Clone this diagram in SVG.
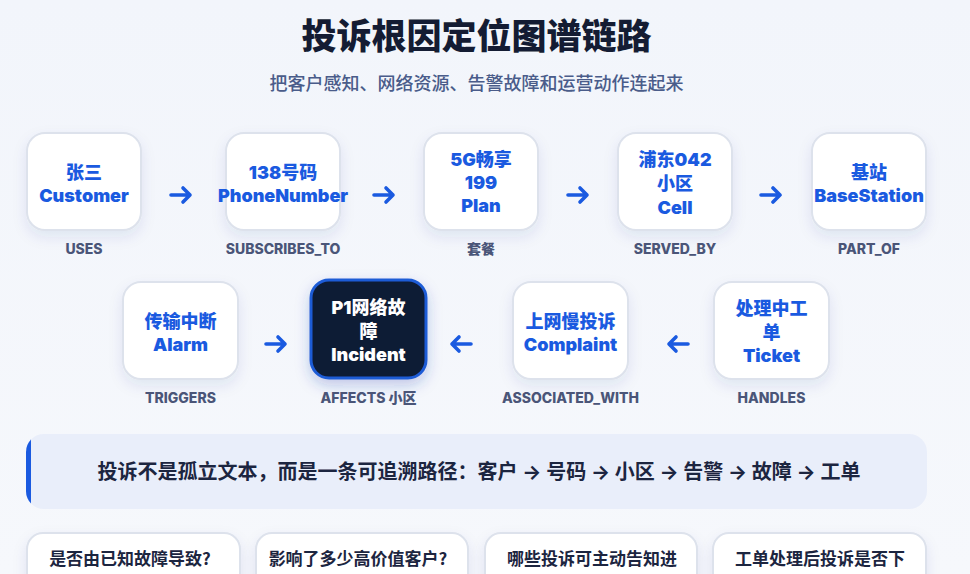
<svg xmlns="http://www.w3.org/2000/svg" width="970" height="574" viewBox="0 0 970 574">
  <defs>
    <linearGradient id="bg" x1="0" y1="0" x2="0" y2="1">
      <stop offset="0" stop-color="#f2f5fb"/>
      <stop offset="1" stop-color="#f6f8fc"/>
    </linearGradient>
    <filter id="sh" x="-30%" y="-30%" width="160%" height="170%">
      <feDropShadow dx="0" dy="6" stdDeviation="7" flood-color="#1e3a8a" flood-opacity="0.09"/>
    </filter>
    <filter id="sh2" x="-30%" y="-30%" width="160%" height="170%">
      <feDropShadow dx="0" dy="6" stdDeviation="7" flood-color="#1e40af" flood-opacity="0.25"/>
    </filter>
    <clipPath id="bannerClip">
      <rect x="26" y="434" width="901" height="75" rx="18"/>
    </clipPath>
  </defs>
  <style>
    .t { font-family: Inter, "Noto Sans CJK SC", sans-serif; }
    .box { fill: #ffffff; stroke: #dde2ec; stroke-width: 2; }
    .nt { font-family: Inter, "Noto Sans CJK SC", sans-serif; font-size: 18px; font-weight: 900; fill: #1a5ae0; text-anchor: middle; dominant-baseline: central; }
    .nw { fill: #ffffff; }
    .lb { font-family: Inter, "Noto Sans CJK SC", sans-serif; font-size: 14px; font-weight: 800; fill: #4a5578; text-anchor: middle; dominant-baseline: central; }
    .arr { fill: none; stroke: #1a5ae0; stroke-width: 3.6; stroke-linecap: round; stroke-linejoin: round; }
    .card { fill: #ffffff; stroke: #dde2ec; stroke-width: 2; }
    .ct { font-family: "Noto Sans CJK SC", sans-serif; font-size: 17px; font-weight: 700; fill: #1c2540; text-anchor: middle; dominant-baseline: central; }
  </style>

  <rect x="0" y="0" width="970" height="574" fill="url(#bg)"/>

  <g id="title">
    <text class="t" x="476.5" y="36" text-anchor="middle" dominant-baseline="central" font-size="35" font-weight="900" fill="#141c33">投诉根因定位图谱链路</text>
    <text class="t" x="476.5" y="83" text-anchor="middle" dominant-baseline="central" font-size="18" font-weight="500" fill="#4a5c8a">把客户感知、网络资源、告警故障和运营动作连起来</text>
  </g>

  <!-- Row 1 -->
  <g id="node-customer">
    <rect class="box" x="27" y="133" width="114" height="97" rx="18" filter="url(#sh)"/>
    <text class="nt" x="84" y="172">张三</text>
    <text class="nt" x="84" y="195">Customer</text>
    <text class="lb" x="84" y="248">USES</text>
  </g>
  <g id="node-phone">
    <rect class="box" x="226" y="133" width="114" height="97" rx="18" filter="url(#sh)"/>
    <text class="nt" x="283" y="172">138号码</text>
    <text class="nt" x="283" y="195">PhoneNumber</text>
    <text class="lb" x="283" y="248">SUBSCRIBES_TO</text>
  </g>
  <g id="node-plan">
    <rect class="box" x="424" y="133" width="114" height="97" rx="18" filter="url(#sh)"/>
    <text class="nt" x="481" y="159">5G畅享</text>
    <text class="nt" x="481" y="182">199</text>
    <text class="nt" x="481" y="205">Plan</text>
    <text class="lb" x="481" y="248">套餐</text>
  </g>
  <g id="node-cell">
    <rect class="box" x="618" y="133" width="114" height="97" rx="18" filter="url(#sh)"/>
    <text class="nt" x="675" y="159">浦东042</text>
    <text class="nt" x="675" y="183">小区</text>
    <text class="nt" x="675" y="207">Cell</text>
    <text class="lb" x="675" y="248">SERVED_BY</text>
  </g>
  <g id="node-basestation">
    <rect class="box" x="812" y="133" width="114" height="97" rx="18" filter="url(#sh)"/>
    <text class="nt" x="869" y="172">基站</text>
    <text class="nt" x="869" y="195">BaseStation</text>
    <text class="lb" x="869" y="248">PART_OF</text>
  </g>

  <!-- Row 2 -->
  <g id="node-alarm">
    <rect class="box" x="123" y="282" width="115" height="97" rx="18" filter="url(#sh)"/>
    <text class="nt" x="180.5" y="321">传输中断</text>
    <text class="nt" x="180.5" y="344">Alarm</text>
    <text class="lb" x="180.5" y="397">TRIGGERS</text>
  </g>
  <g id="node-incident">
    <rect x="311" y="280" width="115" height="98" rx="18" fill="#0e1a36" stroke="#1f5bd6" stroke-width="3" filter="url(#sh2)"/>
    <text class="nt nw" x="368.5" y="307">P1网络故</text>
    <text class="nt nw" x="368.5" y="331">障</text>
    <text class="nt nw" x="368.5" y="354">Incident</text>
    <text class="lb" x="368.5" y="397">AFFECTS 小区</text>
  </g>
  <g id="node-complaint">
    <rect class="box" x="513" y="282" width="115" height="97" rx="18" filter="url(#sh)"/>
    <text class="nt" x="570.5" y="321">上网慢投诉</text>
    <text class="nt" x="570.5" y="344">Complaint</text>
    <text class="lb" x="570.5" y="397">ASSOCIATED_WITH</text>
  </g>
  <g id="node-ticket">
    <rect class="box" x="714" y="282" width="115" height="97" rx="18" filter="url(#sh)"/>
    <text class="nt" x="771.5" y="308">处理中工</text>
    <text class="nt" x="771.5" y="332">单</text>
    <text class="nt" x="771.5" y="355">Ticket</text>
    <text class="lb" x="771.5" y="397">HANDLES</text>
  </g>

  <g id="connectors">
    <path class="arr" d="M171 195 H190 M183 188 L190 195 L183 202"/>
    <path class="arr" d="M374 195 H393 M386 188 L393 195 L386 202"/>
    <path class="arr" d="M568 195 H587 M580 188 L587 195 L580 202"/>
    <path class="arr" d="M761 195 H780 M773 188 L780 195 L773 202"/>
    <path class="arr" d="M266 344 H285 M278 337 L285 344 L278 351"/>
    <path class="arr" d="M471 344 H452 M459 337 L452 344 L459 351"/>
    <path class="arr" d="M688 344 H669 M676 337 L669 344 L676 351"/>
  </g>

  <g id="banner">
    <rect x="26" y="434" width="901" height="75" rx="18" fill="#e9eefa"/>
    <rect x="26" y="434" width="5" height="75" fill="#1a5ae0" clip-path="url(#bannerClip)"/>
    <text x="479" y="472" text-anchor="middle" dominant-baseline="central" font-family="Inter, 'Noto Sans CJK SC', sans-serif" font-size="20" font-weight="700" fill="#1c2540">投诉不是孤立文本，而是一条可追溯路径：客户 → 号码 → 小区 → 告警 → 故障 → 工单</text>
  </g>

  <g id="card-1">
    <rect class="card" x="27" y="533" width="213" height="70" rx="16" filter="url(#sh)"/>
    <text class="ct" x="130" y="557">是否由已知故障导致?</text>
  </g>
  <g id="card-2">
    <rect class="card" x="256" y="533" width="212" height="70" rx="16" filter="url(#sh)"/>
    <text class="ct" x="358" y="557">影响了多少高价值客户?</text>
  </g>
  <g id="card-3">
    <rect class="card" x="485" y="533" width="212" height="70" rx="16" filter="url(#sh)"/>
    <text class="ct" x="592" y="557">哪些投诉可主动告知进</text>
  </g>
  <g id="card-4">
    <rect class="card" x="713" y="533" width="213" height="70" rx="16" filter="url(#sh)"/>
    <text class="ct" x="820" y="557">工单处理后投诉是否下</text>
  </g>
</svg>
